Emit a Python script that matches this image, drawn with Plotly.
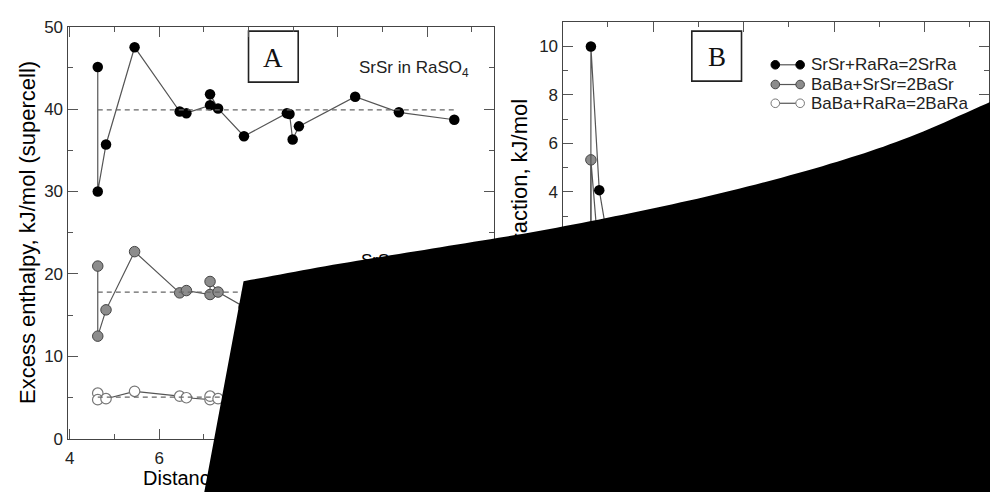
import plotly.graph_objects as go
import numpy as np

W, H = 990, 499

# ---------------- data ----------------
dist = [4.625, 4.625, 4.81, 5.45, 6.46, 6.61, 7.14, 7.14, 7.32, 7.90,
        8.86, 8.92, 8.99, 9.13, 10.39, 11.37, 12.61]
srsr_in_raso4 = [45.1, 30.0, 35.7, 47.5, 39.7, 39.5, 40.45, 41.8, 40.06, 36.7,
                 39.5, 39.4, 36.3, 37.9, 41.5, 39.6, 38.7]
srsr_in_baso4 = [20.95, 12.45, 15.64, 22.7, 17.7, 17.98, 17.5, 19.08, 17.8, 16.0,
                 17.6, 17.5, 15.7, 16.6, 18.8, 17.7, 17.3]
third_a = [5.53, 4.74, 4.86, 5.76, 5.17, 4.98, 4.74, 5.17, 4.86, 4.8,
           5.1, 5.0, 4.7, 4.9, 5.3, 5.1, 4.9]
means_a = [39.9, 17.8, 5.05]

dist_b = [4.625, 4.625, 4.81, 5.45, 6.46, 6.61, 7.14, 7.14, 7.32, 7.90,
          8.86, 8.92, 8.99, 9.13, 10.39, 11.37, 12.61]
srsr_rara = [-2.4, 10.0, 4.07, -3.0, 0.4, 0.2, 0.6, -0.3, 0.1, 0.5,
             -0.2, 0.0, 0.3, 0.1, -0.1, 0.2, 0.0]
baba_srsr = [-1.5, 5.32, 1.1, 0.8, 0.3, 0.1, 0.4, -0.2, 0.1, 0.3,
             -0.1, 0.0, 0.2, 0.1, -0.1, 0.1, 0.0]
baba_rara = [-0.5, 1.8, 0.6, 0.3, 0.1, 0.0, 0.2, -0.1, 0.0, 0.1,
             0.0, 0.0, 0.1, 0.0, 0.0, 0.0, 0.0]
legend_labels = ["SrSr+RaRa=2SrRa", "BaBa+SrSr=2BaSr", "BaBa+RaRa=2BaRa"]

# ---------------- helpers ----------------
def px(x):
    return x / W

def py(y):
    return 1 - y / H

SANS = "Liberation Sans, Arial, sans-serif"
SERIF = "Liberation Serif, Times New Roman, serif"
LINE_C = "#555555"

styles = [
    dict(color="#000000", line=dict(width=0)),
    dict(color="#8c8c8c", line=dict(width=1, color="#444444")),
    dict(color="#ffffff", line=dict(width=1.2, color="#777777")),
]

fig = go.Figure()

# Panel A
for vals, st in zip([srsr_in_raso4, srsr_in_baso4, third_a], styles):
    fig.add_trace(go.Scatter(x=dist, y=vals, mode="lines+markers",
                             line=dict(color=LINE_C, width=1.2),
                             marker=dict(size=10.5, **st),
                             xaxis="x", yaxis="y", showlegend=False))
for m in means_a:
    fig.add_trace(go.Scatter(x=[dist[0], dist[-1]], y=[m, m], mode="lines",
                             line=dict(color="#666666", width=1.2, dash="5px,4px"),
                             xaxis="x", yaxis="y", showlegend=False))

# Panel B
for vals, st in zip([baba_rara, baba_srsr, srsr_rara], styles[::-1]):
    fig.add_trace(go.Scatter(x=dist_b, y=vals, mode="lines+markers",
                             line=dict(color=LINE_C, width=1.2),
                             marker=dict(size=10.5, **st),
                             xaxis="x2", yaxis="y2", showlegend=False))

axis_common = dict(showgrid=False, zeroline=False, showline=True,
                   linecolor="#444444", linewidth=1.3, mirror="ticks",
                   ticks="inside", ticklen=10, tickwidth=1, tickcolor="#555555",
                   tickfont=dict(family=SANS, size=17, color="#222222"),
                   minor=dict(ticks="inside", ticklen=5, tickwidth=1,
                              tickcolor="#555555", showgrid=False))

fig.update_layout(
    width=W, height=H,
    margin=dict(l=0, r=0, t=0, b=0),
    paper_bgcolor="white", plot_bgcolor="white",
    xaxis=dict(domain=[px(63), px(492)], range=[3.95, 13.5], dtick=2, tick0=0,
               minor_dtick=1, anchor="y", ticklabelstandoff=4, **axis_common),
    yaxis=dict(domain=[py(446.8), py(18.3)], range=[0, 50], dtick=10,
               minor_dtick=5, anchor="x", **axis_common),
    xaxis2=dict(domain=[px(561), 1.0], range=[4.0, 13.42], dtick=2, tick0=0,
                minor_dtick=1, anchor="y2", ticklabelstandoff=4, **axis_common),
    yaxis2=dict(domain=[py(447), py(13)], range=[-6.2, 11.03], dtick=2,
                minor_dtick=1, anchor="x2", **axis_common),
)

annotations = []
shapes = []

# Axis titles
annotations.append(dict(text="Excess enthalpy, kJ/mol (supercell)", x=px(22), y=py(232),
                        xref="paper", yref="paper", textangle=-90, showarrow=False,
                        xanchor="center", yanchor="middle",
                        font=dict(family=SANS, size=22, color="#000000")))
annotations.append(dict(text="Distance between impurities, Å", x=px(137), y=py(488),
                        xref="paper", yref="paper", showarrow=False,
                        xanchor="left", yanchor="middle",
                        font=dict(family=SANS, size=20, color="#000000")))
annotations.append(dict(text="Energy of interaction, kJ/mol", x=px(518), y=py(91),
                        xref="paper", yref="paper", textangle=-90, showarrow=False,
                        xanchor="center", yanchor="top",
                        font=dict(family=SANS, size=22, color="#000000")))

# Series labels in A
annotations.append(dict(text="SrSr in RaSO<sub>4</sub>", x=px(354), y=py(62),
                        xref="paper", yref="paper", showarrow=False,
                        xanchor="left", yanchor="middle",
                        font=dict(family=SANS, size=17, color="#222222")))
annotations.append(dict(text="SrSr in BaSO<sub>4</sub>", x=px(356), y=py(263),
                        xref="paper", yref="paper", showarrow=False,
                        xanchor="left", yanchor="middle",
                        font=dict(family=SANS, size=17, color="#000000")))

# Panel letters with boxes
for letter, (x0, x1, y0, y1) in [("A", (245, 295, 23, 76)), ("B", (691, 741, 23, 75))]:
    shapes.append(dict(type="rect", xref="paper", yref="paper",
                       x0=px(x0), x1=px(x1), y0=py(y1), y1=py(y0),
                       line=dict(color="#222222", width=1.6), fillcolor="white",
                       layer="below"))
    annotations.append(dict(text=letter, x=px((x0 + x1) / 2), y=py((y0 + y1) / 2 + 1),
                            xref="paper", yref="paper", showarrow=False,
                            xanchor="center", yanchor="middle",
                            font=dict(family=SERIF, size=27, color="#111111")))

# Manual legend for B
leg_rows = [58, 78.5, 98]
for lab, ry, st in zip(legend_labels, leg_rows, styles):
    shapes.append(dict(type="line", xref="paper", yref="paper",
                       x0=px(775), x1=px(800), y0=py(ry), y1=py(ry),
                       line=dict(color=LINE_C, width=1.2)))
    for cx in (775, 800):
        lc = st["line"].get("color", st["color"]) if st["line"].get("width", 0) else st["color"]
        shapes.append(dict(type="circle", xref="paper", yref="paper",
                           xsizemode="pixel", ysizemode="pixel",
                           xanchor=px(cx), yanchor=py(ry),
                           x0=-4.3, x1=4.3, y0=-4.3, y1=4.3,
                           fillcolor=st["color"], line=dict(color=lc, width=1)))
    annotations.append(dict(text=lab, x=px(809), y=py(ry), xref="paper", yref="paper",
                            showarrow=False, xanchor="left", yanchor="middle",
                            font=dict(family=SANS, size=17, color="#222222")))

# Black occluding shape (smooth curved top edge via Catmull-Rom sampling)
edge = np.array([(240, 283), (330, 266), (430, 249), (530, 232), (630, 212),
                 (730, 189), (830, 161), (910, 133), (995, 95)], dtype=float)
ext = np.vstack([edge[0] - (edge[1] - edge[0]), edge, edge[-1] + (edge[-1] - edge[-2])])
curve = []
for i in range(1, len(ext) - 2):
    p0, p1, p2, p3 = ext[i - 1], ext[i], ext[i + 1], ext[i + 2]
    for t in np.linspace(0, 1, 12, endpoint=False):
        t2, t3 = t * t, t * t * t
        pt = 0.5 * ((2 * p1) + (-p0 + p2) * t + (2 * p0 - 5 * p1 + 4 * p2 - p3) * t2
                    + (-p0 + 3 * p1 - 3 * p2 + p3) * t3)
        curve.append(tuple(pt))
curve.append(tuple(edge[-1]))
pts = curve + [(995, 502), (200.5, 502)]
path = "M " + " L ".join(f"{px(x):.5f},{py(y):.5f}" for x, y in pts) + " Z"
shapes.append(dict(type="path", xref="paper", yref="paper", path=path,
                   fillcolor="black", line=dict(color="black", width=0), layer="above"))

fig.update_layout(annotations=annotations, shapes=shapes)
fig.write_html("out.html")
